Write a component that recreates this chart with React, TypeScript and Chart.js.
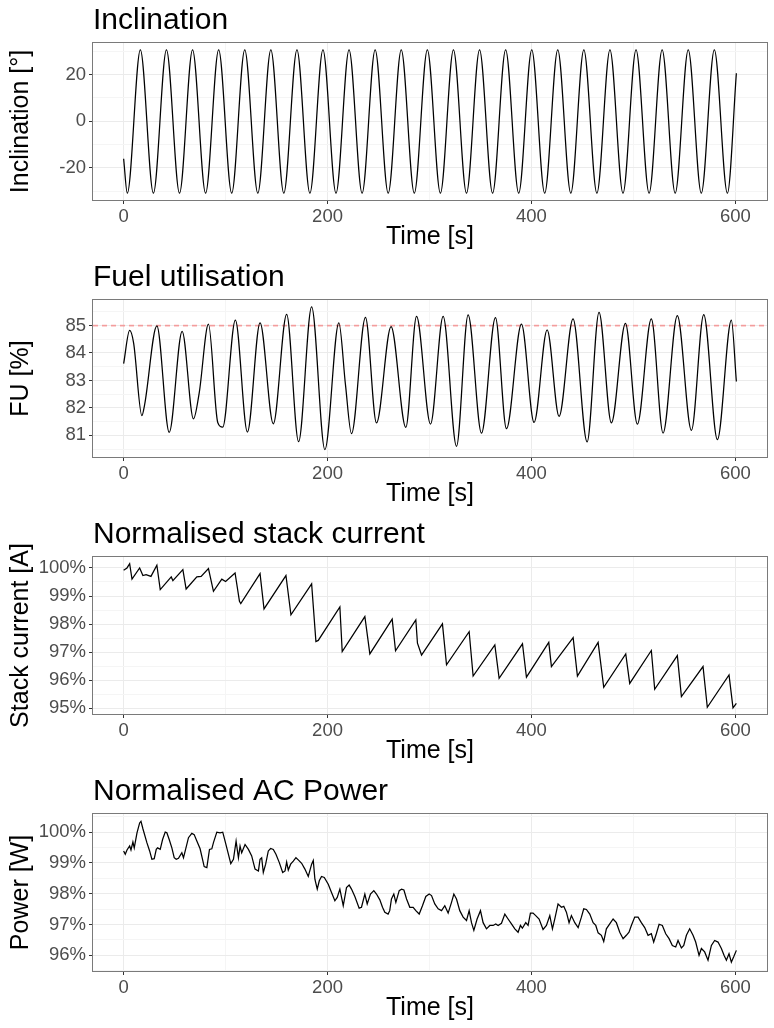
import React, { useEffect, useRef } from 'react';
import { Chart, registerables } from 'chart.js';

Chart.register(...registerables);

const FONT = '"Liberation Sans", Arial, sans-serif';

// ---- shared x axis ----
const X_RANGE = [-30.05, 631.05];
const X_MAJOR = 200;
const X_STEP = 100;

// ---- Inclination (key extrema of the oscillation) ----
const INC_T = [0, 3.6, 16.4, 29.2, 42.0, 54.8, 67.6, 80.4, 93.2, 106.0, 118.8, 131.6, 144.4, 157.1, 170.0, 182.7, 195.5, 208.3, 221.1, 233.9, 246.7, 259.5, 272.3, 285.1, 297.9, 310.7, 323.5, 336.3, 349.1, 361.9, 374.7, 387.5, 400.3, 413.0, 425.8, 438.6, 451.4, 464.2, 477.0, 489.8, 502.6, 515.4, 528.2, 541.0, 553.8, 566.6, 579.4, 592.2, 601];
const INC_V = [-16.1, -30.9, 30.6, -30.9, 30.6, -30.9, 30.6, -30.9, 30.6, -30.9, 30.6, -30.9, 30.6, -30.9, 30.6, -30.9, 30.6, -30.9, 30.6, -30.9, 30.6, -30.9, 30.6, -30.9, 30.6, -30.9, 30.6, -30.9, 30.6, -30.9, 30.6, -30.9, 30.6, -30.9, 30.6, -30.9, 30.6, -30.9, 30.6, -30.9, 30.6, -30.9, 30.6, -30.9, 30.6, -30.9, 30.6, -30.9, 20.5];

// ---- Fuel utilisation ----
const FU_T = [0, 5.9, 9.8, 17.9, 20.6, 32.6, 44.7, 57.4, 68.5, 74.1, 83.2, 92.3, 97.2, 109.6, 121.4, 133.8, 146.8, 159.9, 171.6, 184.4, 197.4, 211.1, 217.6, 223.5, 237.2, 248.0, 262.3, 276.8, 287.3, 301.0, 313.4, 326.5, 337.9, 351.0, 364.7, 375.5, 390.2, 402.6, 415.4, 427.1, 440.8, 454.6, 466.3, 478.4, 492.2, 503.9, 517.6, 529.1, 543.1, 556.9, 569.0, 582.4, 596.1, 601];
const FU_V = [83.61, 84.82, 84.36, 81.72, 82.12, 84.99, 81.11, 84.79, 81.6, 82.54, 85.05, 81.47, 81.3, 85.2, 81.12, 85.1, 81.42, 85.41, 80.77, 85.68, 80.48, 85.1, 82.84, 81.06, 85.3, 81.45, 84.96, 81.29, 85.33, 81.41, 85.33, 80.6, 85.39, 81.08, 85.29, 81.24, 85.05, 81.47, 84.84, 81.69, 85.24, 80.76, 85.48, 81.45, 85.08, 81.41, 85.24, 81.08, 85.36, 81.18, 85.4, 80.84, 85.2, 82.96];
const FU_LIMIT = 85;

// ---- Normalised stack current [%] ----
const SC_T = [0, 3.3, 5.9, 8.2, 15.7, 18.9, 22.0, 26.8, 32.6, 35.9, 46.7, 48.3, 58.1, 61.3, 71.8, 76.0, 83.2, 88.1, 96.3, 100.0, 109.3, 113.6, 114.9, 133.8, 137.7, 159.2, 164.1, 184.4, 188.6, 190.9, 212.1, 214.4, 236.6, 241.5, 263.4, 266.7, 286.6, 288.2, 292.2, 312.7, 316.7, 338.9, 342.8, 364.1, 368.3, 391.2, 395.1, 417.0, 419.6, 440.9, 445.1, 465.4, 470.9, 492.5, 496.4, 517.6, 520.9, 543.1, 547.1, 568.3, 572.5, 593.8, 597.7, 601];
const SC_V = [99.92, 100.0, 100.15, 99.6, 100.0, 99.73, 99.76, 99.7, 100.1, 99.23, 99.68, 99.55, 99.94, 99.25, 99.68, 99.7, 99.98, 99.17, 99.6, 99.52, 99.82, 98.81, 98.73, 99.8, 98.54, 99.73, 98.33, 99.43, 97.38, 97.42, 98.61, 97.02, 98.27, 96.94, 98.18, 97.05, 98.15, 97.32, 96.9, 98.01, 96.55, 97.73, 96.15, 97.26, 96.07, 97.3, 96.11, 97.35, 96.49, 97.52, 96.15, 97.35, 95.75, 96.94, 95.89, 97.06, 95.68, 96.88, 95.42, 96.49, 95.04, 96.19, 95.02, 95.18];

// ---- Normalised AC power [%] ----
const PW_T = [0, 1.6, 3.3, 5.9, 7.2, 9.1, 10.4, 13.1, 15.7, 17.0, 18.9, 22.8, 25.5, 27.7, 30.0, 32.0, 33.3, 35.9, 38.2, 40.8, 42.4, 44.7, 47.3, 49.6, 51.6, 53.8, 57.1, 58.7, 60.4, 63.6, 66.9, 69.2, 71.8, 75.0, 79.0, 81.6, 84.2, 86.5, 88.1, 91.4, 94.6, 97.2, 99.5, 102.8, 105.1, 107.7, 110.3, 112.6, 114.2, 115.8, 119.1, 122.4, 125.6, 128.9, 132.2, 133.8, 135.4, 137.0, 139.3, 141.9, 144.2, 146.8, 149.4, 152.7, 156.0, 158.3, 159.9, 161.5, 163.8, 166.4, 169.0, 171.3, 174.6, 177.8, 181.1, 184.4, 186.0, 187.6, 189.9, 191.9, 194.1, 196.8, 200.7, 203.9, 207.2, 209.5, 212.1, 215.4, 218.6, 221.2, 223.5, 226.8, 231.0, 233.3, 236.6, 238.9, 242.1, 245.4, 248.0, 251.3, 253.9, 256.2, 259.4, 261.0, 262.7, 265.0, 267.0, 270.3, 272.6, 274.9, 277.5, 280.7, 284.0, 286.6, 289.9, 293.1, 296.4, 299.7, 302.0, 305.2, 308.5, 311.8, 315.0, 318.3, 321.6, 323.9, 326.5, 329.7, 333.0, 336.3, 338.9, 341.2, 343.5, 346.7, 350.0, 352.6, 355.9, 359.2, 362.4, 365.0, 367.3, 370.6, 373.9, 377.1, 380.4, 383.7, 386.9, 389.2, 391.1, 394.4, 396.7, 399.0, 401.6, 404.2, 407.5, 411.4, 414.7, 418.0, 420.6, 422.9, 426.1, 429.4, 431.7, 434.3, 436.9, 439.2, 442.5, 445.8, 449.0, 451.3, 453.9, 457.2, 460.5, 463.1, 465.4, 468.6, 470.9, 473.5, 476.8, 480.1, 483.3, 486.6, 489.9, 493.1, 495.7, 498.0, 501.3, 504.6, 507.8, 511.1, 514.4, 517.6, 519.9, 522.5, 525.2, 528.4, 531.7, 535.0, 538.2, 541.5, 543.8, 547.1, 549.4, 552.0, 555.2, 558.5, 561.1, 564.4, 566.7, 569.9, 573.2, 576.5, 579.7, 583.0, 586.3, 588.9, 591.2, 593.8, 596.1, 598.4, 601.0];
const PW_V = [99.39, 99.28, 99.42, 99.55, 99.42, 99.68, 99.49, 99.98, 100.3, 100.35, 100.11, 99.66, 99.39, 99.12, 99.14, 99.44, 99.49, 99.44, 99.76, 100.0, 99.98, 99.76, 99.49, 99.17, 99.12, 99.15, 99.33, 99.17, 99.39, 99.82, 99.96, 99.92, 99.71, 99.46, 98.88, 98.85, 99.44, 99.46, 99.66, 100.0, 99.98, 100.0, 99.71, 99.28, 98.98, 99.12, 99.71, 99.17, 99.55, 99.33, 99.6, 99.44, 99.23, 98.8, 98.74, 99.12, 99.17, 98.69, 98.96, 99.39, 99.47, 99.44, 99.28, 99.01, 98.69, 98.74, 99.03, 98.77, 98.96, 99.06, 99.17, 99.1, 98.99, 98.8, 98.56, 98.96, 99.08, 98.47, 98.15, 98.42, 98.56, 98.53, 98.31, 98.04, 97.77, 97.88, 98.15, 97.61, 98.2, 98.28, 98.15, 97.91, 97.53, 97.56, 97.99, 97.67, 97.99, 98.1, 97.99, 97.8, 97.56, 97.4, 97.34, 97.45, 97.83, 97.99, 97.72, 98.1, 98.15, 98.12, 97.83, 97.56, 97.56, 97.45, 97.34, 97.61, 97.91, 97.99, 97.94, 97.67, 97.51, 97.45, 97.61, 97.37, 97.72, 97.99, 97.83, 97.45, 97.24, 97.13, 97.45, 97.06, 96.81, 97.18, 97.45, 97.06, 96.86, 96.97, 96.97, 97.02, 96.97, 97.04, 97.34, 97.18, 97.02, 96.86, 96.75, 96.97, 96.88, 97.06, 96.97, 97.37, 97.37, 97.29, 97.18, 96.84, 96.97, 97.29, 96.86, 97.18, 97.67, 97.56, 97.59, 97.4, 97.06, 97.29, 97.06, 96.9, 97.24, 97.51, 97.49, 97.34, 97.06, 96.97, 96.73, 96.65, 96.45, 96.86, 97.02, 97.18, 97.06, 96.75, 96.54, 96.65, 96.75, 96.97, 97.24, 97.24, 97.06, 96.9, 96.65, 96.7, 96.43, 96.7, 97.01, 96.97, 96.7, 96.54, 96.32, 96.27, 96.48, 96.24, 96.32, 96.65, 96.86, 96.65, 96.43, 96.0, 96.22, 96.11, 95.84, 96.32, 96.48, 96.43, 96.22, 96.0, 95.84, 96.05, 95.78, 95.95, 96.16];

type PanelDef = {
  title: string;
  yTitle: string;
  xs: number[];
  ys: number[];
  yRange: number[];
  yStep: number;
  yMajor: number;
  pct: boolean;
  smooth: boolean;
  refY?: number;
};

const PANELS: PanelDef[] = [
  { title: 'Inclination', yTitle: 'Inclination [°]', xs: INC_T, ys: INC_V, yRange: [-33.8, 33.5], yStep: 10, yMajor: 20, pct: false, smooth: true },
  { title: 'Fuel utilisation', yTitle: 'FU [%]', xs: FU_T, ys: FU_V, yRange: [80.21, 85.93], yStep: 0.5, yMajor: 1, pct: false, smooth: true, refY: FU_LIMIT },
  { title: 'Normalised stack current', yTitle: 'Stack current [A]', xs: SC_T, ys: SC_V, yRange: [94.8, 100.39], yStep: 0.5, yMajor: 1, pct: true, smooth: false },
  { title: 'Normalised AC Power', yTitle: 'Power [W]', xs: PW_T, ys: PW_V, yRange: [95.49, 100.59], yStep: 0.5, yMajor: 1, pct: true, smooth: false },
];

const W = 774;
const H = 257;
const TITLE_SIZE = 30;
const AXIS_TITLE_SIZE = 25;
const TICK_SIZE = 18.5;

const isMajor = (v: number, m: number) => Math.abs(v - Math.round(v / m) * m) < 1e-6;

function Panel({ def }: { def: PanelDef }) {
  const ref = useRef<HTMLCanvasElement>(null);
  useEffect(() => {
    const canvas = ref.current;
    if (!canvas) return;
    const data = def.xs.map((x, i) => ({ x, y: def.ys[i] }));

    const decor = {
      id: 'decor',
      beforeDatasetsDraw(chart: any) {
        if (def.refY === undefined) return;
        const { ctx, chartArea } = chart;
        const y = chart.scales.y.getPixelForValue(def.refY);
        ctx.save();
        ctx.strokeStyle = 'rgba(250, 80, 80, 0.5)';
        ctx.lineWidth = 1.8;
        ctx.setLineDash([5, 4]);
        ctx.beginPath();
        ctx.moveTo(chartArea.left, y);
        ctx.lineTo(chartArea.right, y);
        ctx.stroke();
        ctx.restore();
      },
      afterDraw(chart: any) {
        const { ctx, chartArea } = chart;
        ctx.save();
        ctx.strokeStyle = '#7a7a7a';
        ctx.lineWidth = 1;
        ctx.strokeRect(Math.round(chartArea.left) - 0.5, Math.round(chartArea.top) - 0.5,
          Math.round(chartArea.right - chartArea.left) + 1, Math.round(chartArea.bottom - chartArea.top) + 1);
        ctx.fillStyle = '#000';
        ctx.font = `${TITLE_SIZE}px ${FONT}`;
        ctx.textBaseline = 'alphabetic';
        ctx.textAlign = 'left';
        ctx.fillText(def.title, chartArea.left, 29);
        ctx.restore();
      },
    };

    const chart = new Chart(canvas, {
      type: 'line',
      data: {
        datasets: [{
          data,
          borderColor: '#000',
          borderWidth: 1.25,
          pointRadius: 0,
          fill: false,
          tension: 0,
          cubicInterpolationMode: def.smooth ? 'monotone' : 'default',
        }],
      },
      options: {
        animation: false,
        responsive: false,
        devicePixelRatio: 1,
        layout: { padding: { top: 43, right: 7, left: 0, bottom: 0 } },
        plugins: { legend: { display: false }, tooltip: { enabled: false }, title: { display: false } },
        scales: {
          x: {
            type: 'linear',
            min: X_RANGE[0],
            max: X_RANGE[1],
            afterFit: (s: any) => { s.height = 57; },
            border: { display: false },
            grid: {
              color: (c: any) => (isMajor(c.tick.value, X_MAJOR) ? '#EBEBEB' : '#F5F5F5'),
              tickColor: (c: any) => (isMajor(c.tick.value, X_MAJOR) ? '#333333' : 'rgba(0,0,0,0)'),
              tickLength: 4,
              lineWidth: 1,
            },
            ticks: {
              stepSize: X_STEP,
              includeBounds: false,
              autoSkip: false,
              maxRotation: 0,
              padding: 2,
              color: '#4D4D4D',
              font: { family: FONT, size: TICK_SIZE },
              callback: (v: any) => (isMajor(Number(v), X_MAJOR) ? String(v) : ''),
            },
            title: {
              display: true,
              text: 'Time [s]',
              color: '#000',
              font: { family: FONT, size: AXIS_TITLE_SIZE },
              padding: { top: 0, bottom: 5 },
            },
          },
          y: {
            type: 'linear',
            min: def.yRange[0],
            max: def.yRange[1],
            afterFit: (s: any) => { s.width = 93; },
            border: { display: false },
            grid: {
              color: (c: any) => (isMajor(c.tick.value, def.yMajor) ? '#EBEBEB' : '#F5F5F5'),
              tickColor: (c: any) => (isMajor(c.tick.value, def.yMajor) ? '#333333' : 'rgba(0,0,0,0)'),
              tickLength: 4,
              lineWidth: 1,
            },
            ticks: {
              stepSize: def.yStep,
              includeBounds: false,
              autoSkip: false,
              padding: 3,
              color: '#4D4D4D',
              font: { family: FONT, size: TICK_SIZE },
              callback: (v: any) => {
                const n = Number(v);
                if (!isMajor(n, def.yMajor)) return '';
                const r = Math.round(n);
                return def.pct ? `${r}%` : String(r);
              },
            },
            title: {
              display: true,
              text: def.yTitle,
              color: '#000',
              font: { family: FONT, size: AXIS_TITLE_SIZE },
              padding: { top: 6, bottom: 0 },
            },
          },
        },
      },
      plugins: [decor],
    } as any);
    return () => chart.destroy();
  }, [def]);
  return <canvas ref={ref} width={W} height={H} style={{ display: 'block', width: W, height: H }} />;
}

export default function App() {
  return (
    <div style={{ position: 'absolute', left: 0, top: 0, width: W, height: H * 4, background: '#fff' }}>
      {PANELS.map((p) => (
        <Panel key={p.title} def={p} />
      ))}
    </div>
  );
}
